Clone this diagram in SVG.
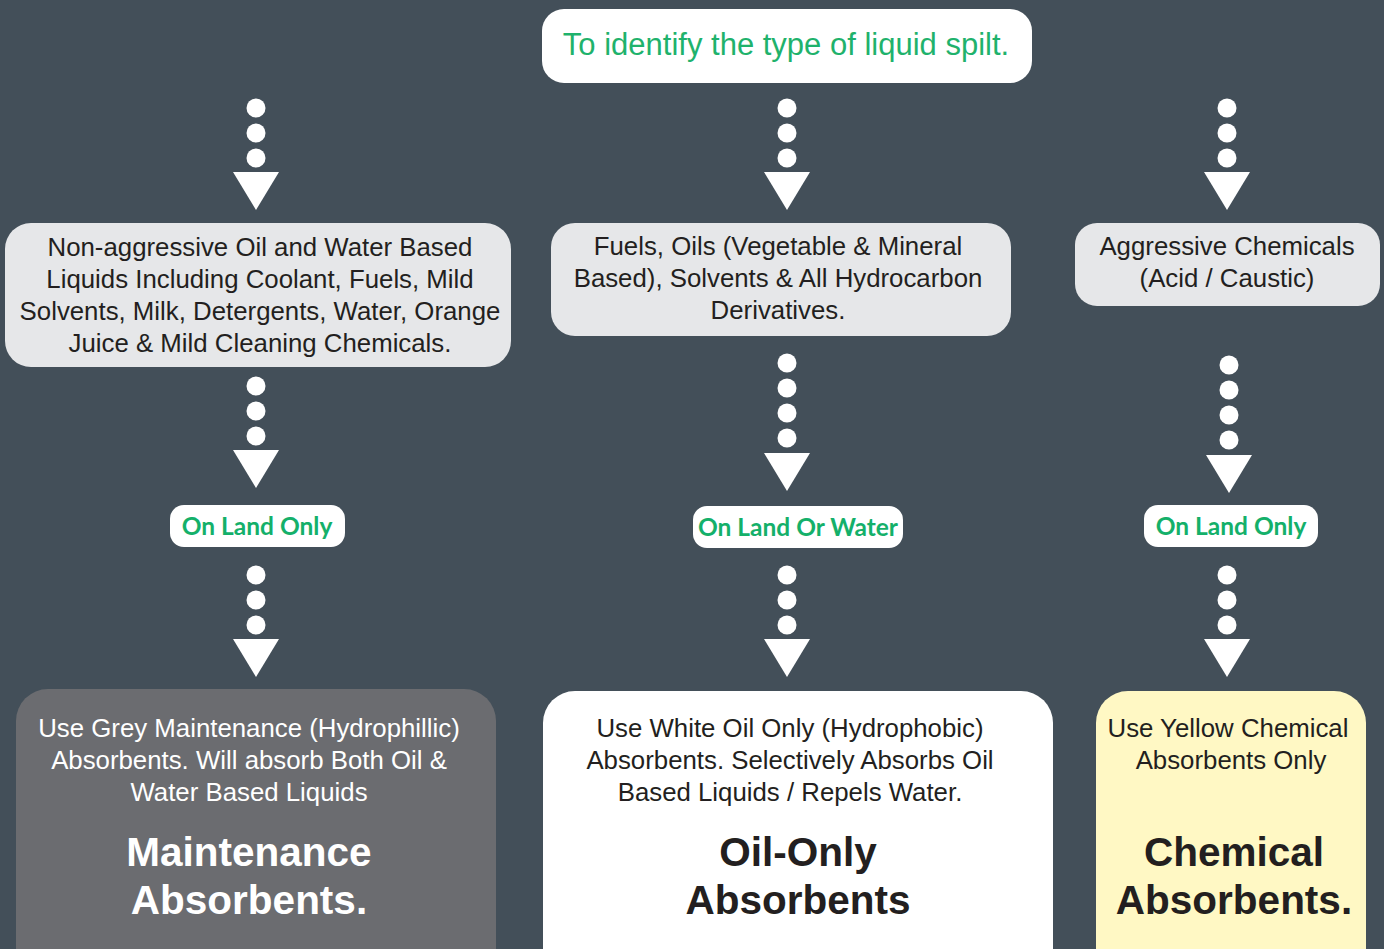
<svg xmlns="http://www.w3.org/2000/svg" width="1384" height="949" viewBox="0 0 1384 949">
<defs>
<style>
.bg{fill:#434f59}
.t{font-family:"Liberation Sans",Arial,sans-serif;font-size:25.8px;fill:#231f20;text-anchor:middle}
.b{font-family:"Liberation Sans",Arial,sans-serif;font-weight:700;font-size:40.5px;text-anchor:middle}
.pill{fill:#ffffff}
.pt{font-family:Lato,"Open Sans",sans-serif;font-weight:700;font-size:24.5px;fill:#14b06a;text-anchor:middle}
.dot{fill:#ffffff}
.tri{fill:#ffffff}
</style>
<g id="arrow3">
<circle class="dot" cx="0" cy="0" r="9.5"/>
<circle class="dot" cx="0" cy="25" r="9.5"/>
<circle class="dot" cx="0" cy="50" r="9.5"/>
<polygon class="tri" points="-23,64 23,64 0,102"/>
</g>
<g id="arrow4">
<circle class="dot" cx="0" cy="0" r="9.5"/>
<circle class="dot" cx="0" cy="25" r="9.5"/>
<circle class="dot" cx="0" cy="50" r="9.5"/>
<circle class="dot" cx="0" cy="75" r="9.5"/>
<polygon class="tri" points="-23,90 23,90 0,128"/>
</g>
</defs>
<rect class="bg" x="0" y="0" width="1384" height="949"/>

<g id="connectors">
<use href="#arrow3" x="256" y="108"/>
<use href="#arrow3" x="787" y="108"/>
<use href="#arrow3" x="1227" y="108"/>
<use href="#arrow3" x="256" y="386"/>
<use href="#arrow4" x="787" y="363"/>
<use href="#arrow4" x="1229" y="365"/>
<use href="#arrow3" x="256" y="575"/>
<use href="#arrow3" x="787" y="575"/>
<use href="#arrow3" x="1227" y="575"/>
</g>

<g id="top">
<rect x="542" y="9" width="490" height="74" rx="22" fill="#ffffff"/>
<text x="786" y="55" font-family="'Liberation Sans',Arial,sans-serif" font-size="31" fill="#1fb26c" text-anchor="middle">To identify the type of liquid spilt.</text>
</g>

<g id="liquid-mild">
<rect x="5" y="223" width="506" height="144" rx="26" fill="#e6e7e9"/>
<text class="t" x="260" y="256">Non-aggressive Oil and Water Based</text>
<text class="t" x="260" y="288">Liquids Including Coolant, Fuels, Mild</text>
<text class="t" x="260" y="320">Solvents, Milk, Detergents, Water, Orange</text>
<text class="t" x="260" y="352">Juice &amp; Mild Cleaning Chemicals.</text>
</g>

<g id="liquid-fuel">
<rect x="551" y="223" width="460" height="113" rx="24" fill="#e6e7e9"/>
<text class="t" x="778" y="255">Fuels, Oils (Vegetable &amp; Mineral</text>
<text class="t" x="778" y="287">Based), Solvents &amp; All Hydrocarbon</text>
<text class="t" x="778" y="319">Derivatives.</text>
</g>

<g id="liquid-aggressive">
<rect x="1075" y="223" width="305" height="83" rx="22" fill="#e6e7e9"/>
<text class="t" x="1227" y="255">Aggressive Chemicals</text>
<text class="t" x="1227" y="287">(Acid / Caustic)</text>
</g>

<g id="pill-1">
<rect class="pill" x="170" y="505" width="175" height="42" rx="14"/>
<text class="pt" x="257" y="535">On Land Only</text>
</g>
<g id="pill-2">
<rect class="pill" x="693" y="506" width="210" height="42" rx="14"/>
<text class="pt" x="798" y="536">On Land Or Water</text>
</g>
<g id="pill-3">
<rect class="pill" x="1144" y="505" width="174" height="42" rx="14"/>
<text class="pt" x="1231" y="535">On Land Only</text>
</g>

<g id="maintenance">
<rect x="16" y="689" width="480" height="300" rx="32" fill="#6b6c70"/>
<text class="t" x="249" y="737" style="fill:#ffffff">Use Grey Maintenance (Hydrophillic)</text>
<text class="t" x="249" y="769" style="fill:#ffffff">Absorbents. Will absorb Both Oil &amp;</text>
<text class="t" x="249" y="801" style="fill:#ffffff">Water Based Liquids</text>
<text class="b" x="249" y="866" fill="#ffffff">Maintenance</text>
<text class="b" x="249" y="914" fill="#ffffff">Absorbents.</text>
</g>

<g id="oil-only">
<rect x="543" y="691" width="510" height="300" rx="32" fill="#ffffff"/>
<text class="t" x="790" y="737">Use White Oil Only (Hydrophobic)</text>
<text class="t" x="790" y="769">Absorbents. Selectively Absorbs Oil</text>
<text class="t" x="790" y="801">Based Liquids / Repels Water.</text>
<text class="b" x="798" y="866" fill="#231f20">Oil-Only</text>
<text class="b" x="798" y="914" fill="#231f20">Absorbents</text>
</g>

<g id="chemical">
<rect x="1096" y="691" width="270" height="300" rx="32" fill="#fff8c4"/>
<text class="t" x="1228" y="737">Use Yellow Chemical</text>
<text class="t" x="1231" y="769">Absorbents Only</text>
<text class="b" x="1234" y="866" fill="#231f20">Chemical</text>
<text class="b" x="1234" y="914" fill="#231f20">Absorbents.</text>
</g>
</svg>
